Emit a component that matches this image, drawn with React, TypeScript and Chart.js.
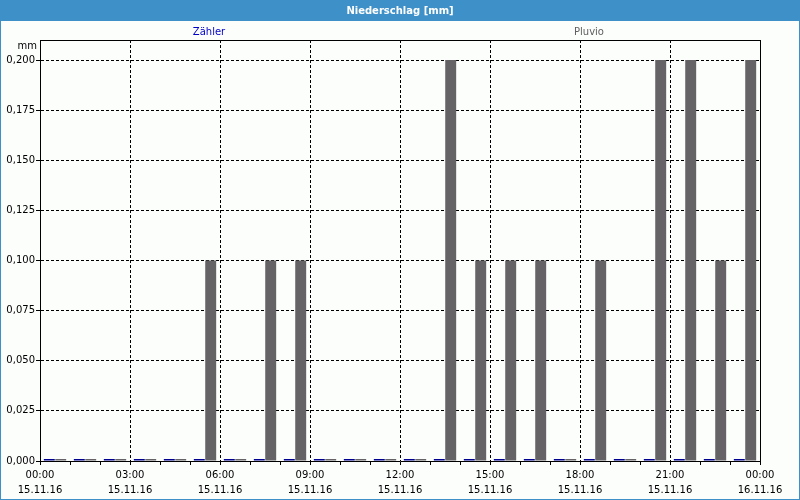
import React, { useEffect, useRef } from "react";
import { Chart, registerables } from "chart.js";

Chart.register(...registerables);

const hours = [0, 1, 2, 3, 4, 5, 6, 7, 8, 9, 10, 11, 12, 13, 14, 15, 16, 17, 18, 19, 20, 21, 22, 23];
const zaehler = [0, 0, 0, 0, 0, 0, 0, 0, 0, 0, 0, 0, 0, 0, 0, 0, 0, 0, 0, 0, 0, 0, 0, 0];
const pluvio = [0, 0, 0, 0, 0, 0.1, 0, 0.1, 0.1, 0, 0, 0, 0, 0.2, 0.1, 0.1, 0.1, 0, 0.1, 0, 0.2, 0.2, 0.1, 0.2];
const tickTimes = ["00:00", "03:00", "06:00", "09:00", "12:00", "15:00", "18:00", "21:00", "00:00"];
const tickDates = ["15.11.16", "15.11.16", "15.11.16", "15.11.16", "15.11.16", "15.11.16", "15.11.16", "15.11.16", "16.11.16"];
const seriesNames = ["Zähler", "Pluvio"];
const chartTitle = "Niederschlag [mm]";
const yUnit = "mm";

const FONT = "'DejaVu Sans', sans-serif";
const TITLE_BLUE = "#3d90c8";
const BAR_BLUE = "#00008e";
const BAR_GRAY = "#656366";

const framePlugin = {
  id: "framePlugin",
  beforeDraw(chart: any) {
    const { ctx, width, height } = chart;
    ctx.save();
    ctx.fillStyle = "#fcfefc";
    ctx.fillRect(0, 0, width, height);
    ctx.fillStyle = TITLE_BLUE;
    ctx.fillRect(0, 0, width, 21);
    ctx.fillStyle = "#ffffff";
    ctx.font = `bold 10px ${FONT}`;
    ctx.textAlign = "center";
    ctx.textBaseline = "middle";
    ctx.fillText(chartTitle, width / 2, 11);
    ctx.strokeStyle = TITLE_BLUE;
    ctx.lineWidth = 1;
    ctx.strokeRect(0.5, 0.5, width - 1, height - 1);
    ctx.restore();
  },
  afterDraw(chart: any) {
    const { ctx, chartArea } = chart;
    const { left, right, top, bottom } = chartArea;
    ctx.save();
    ctx.strokeStyle = "#000";
    ctx.lineWidth = 1;
    ctx.beginPath();
    ctx.moveTo(Math.round(left) + 0.5, Math.round(bottom) + 0.5);
    ctx.lineTo(Math.round(left) + 0.5, Math.round(top) + 0.5);
    ctx.lineTo(Math.round(right) + 0.5, Math.round(top) + 0.5);
    ctx.lineTo(Math.round(right) + 0.5, Math.round(bottom) + 0.5);
    ctx.stroke();
    ctx.font = `10px ${FONT}`;
    ctx.textBaseline = "middle";
    ctx.textAlign = "right";
    ctx.fillStyle = "#000";
    ctx.fillText(yUnit, left - 3, top + 6);
    ctx.textAlign = "center";
    ctx.fillStyle = "#0000c8";
    ctx.fillText(seriesNames[0], 209, 32);
    ctx.fillStyle = "#606060";
    ctx.fillText(seriesNames[1], 589, 32);
    ctx.restore();
  },
};

export default function App() {
  const ref = useRef<HTMLCanvasElement | null>(null);

  useEffect(() => {
    document.body.style.margin = "0";
    const canvas = ref.current;
    if (!canvas) return;
    Chart.defaults.font.family = FONT;
    Chart.defaults.font.size = 10;
    Chart.defaults.color = "#000";

    const chart = new Chart(canvas, {
      type: "bar",
      data: {
        datasets: [
          {
            label: seriesNames[0],
            data: hours.map((h, i) => ({ x: h + 0.5, y: zaehler[i] })),
            backgroundColor: BAR_BLUE,
            minBarLength: 2,
          },
          {
            label: seriesNames[1],
            data: hours.map((h, i) => ({ x: h + 0.5, y: pluvio[i] })),
            backgroundColor: BAR_GRAY,
            minBarLength: 2,
          },
        ],
      },
      options: {
        animation: false,
        responsive: false,
        maintainAspectRatio: false,
        events: [],
        layout: { padding: { top: 40, right: 40, left: 0, bottom: 0 } },
        datasets: { bar: { categoryPercentage: 0.76, barPercentage: 0.96 } },
        plugins: {
          legend: { display: false },
          title: { display: false },
          tooltip: { enabled: false },
        },
        scales: {
          x: {
            type: "linear",
            min: 0,
            max: 24,
            offset: false,
            afterFit: (scale: any) => {
              scale.height = 39;
            },
            ticks: {
              stepSize: 1,
              autoSkip: false,
              maxRotation: 0,
              padding: 3,
              color: "#000",
              font: { size: 10, lineHeight: 1.5 },
              callback: (v: any) => {
                const n = Number(v);
                if (n % 3 !== 0) return "";
                const idx = n / 3;
                return [tickTimes[idx], tickDates[idx]];
              },
            },
            grid: {
              offset: false,
              color: (c: any) => (c.tick && Number(c.tick.value) % 3 === 0 ? "#000" : "rgba(0,0,0,0)"),
              tickColor: "#000",
              tickLength: 4,
              lineWidth: 1,
            },
            border: { display: true, color: "#000", width: 1, dash: [3, 2] },
          },
          y: {
            type: "linear",
            min: 0,
            max: 0.21,
            afterFit: (scale: any) => {
              scale.width = 40;
            },
            afterBuildTicks: (scale: any) => {
              scale.ticks = scale.ticks.filter((t: any) => t.value <= 0.2 + 1e-9);
            },
            ticks: {
              stepSize: 0.025,
              padding: 1,
              color: "#000",
              font: { size: 10 },
              callback: (v: any) => Number(v).toFixed(3).replace(".", ","),
            },
            grid: {
              color: "#000",
              tickColor: "#000",
              tickLength: 4,
              lineWidth: 1,
            },
            border: { display: true, color: "#000", width: 1, dash: [3, 2] },
          },
        },
      },
      plugins: [framePlugin],
    } as any);

    return () => chart.destroy();
  }, []);

  return (
    <div style={{ position: "absolute", left: 0, top: 0, width: 800, height: 500 }}>
      <canvas ref={ref} width={800} height={500} style={{ display: "block" }} />
    </div>
  );
}
